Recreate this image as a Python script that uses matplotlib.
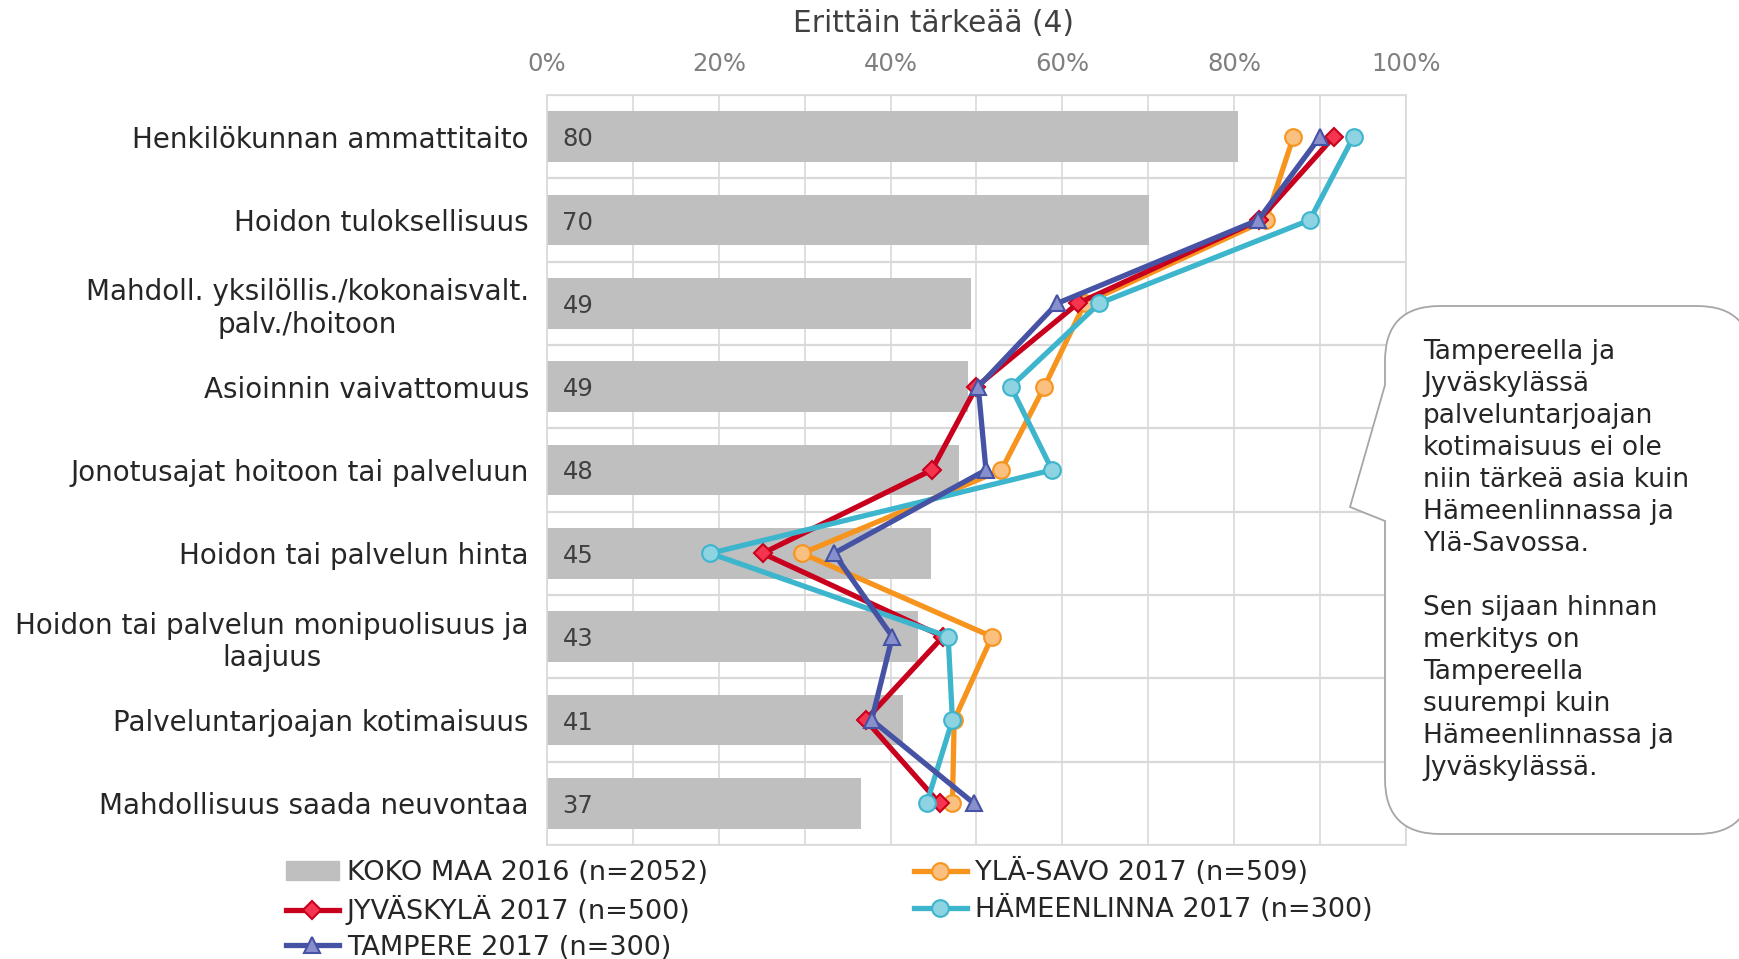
import numpy as np
import matplotlib
matplotlib.use('Agg')
import matplotlib.pyplot as plt
from matplotlib.path import Path
from matplotlib.patches import PathPatch, Patch
from matplotlib.lines import Line2D

categories = ['Henkilökunnan ammattitaito', 'Hoidon tuloksellisuus',
              'Mahdoll. yksilöllis./kokonaisvalt.\npalv./hoitoon', 'Asioinnin vaivattomuus',
              'Jonotusajat hoitoon tai palveluun', 'Hoidon tai palvelun hinta',
              'Hoidon tai palvelun monipuolisuus ja\nlaajuus', 'Palveluntarjoajan kotimaisuus',
              'Mahdollisuus saada neuvontaa']

koko_maa = [80.4, 70.1, 49.4, 49.0, 48.0, 44.7, 43.2, 41.4, 36.6]
yla_savo = [86.9, 83.7, 62.6, 57.9, 52.9, 29.7, 51.8, 47.4, 47.2]
jyvaskyla = [91.6, 82.9, 61.8, 50.0, 44.8, 25.1, 46.1, 37.1, 45.7]
hameenlinna = [93.9, 88.8, 64.3, 54.0, 58.8, 19.0, 46.7, 47.2, 44.2]
tampere = [90.0, 82.8, 59.4, 50.2, 51.1, 33.4, 40.2, 37.8, 49.7]

series_labels = ['KOKO MAA 2016 (n=2052)', 'YLÄ-SAVO 2017 (n=509)', 'JYVÄSKYLÄ 2017 (n=500)',
                 'HÄMEENLINNA 2017 (n=300)', 'TAMPERE 2017 (n=300)']
ticks = [0, 20, 40, 60, 80, 100]

note = ('Tampereella ja\nJyväskylässä\npalveluntarjoajan\nkotimaisuus ei ole\n'
        'niin tärkeä asia kuin\nHämeenlinnassa ja\nYlä-Savossa.\n\n'
        'Sen sijaan hinnan\nmerkitys on\nTampereella\nsuurempi kuin\n'
        'Hämeenlinnassa ja\nJyväskylässä.')

plt.rcParams['font.family'] = ['DejaVu Sans']

W, H = 1740, 959
fig = plt.figure(figsize=(W / 100, H / 100), dpi=100)
ax = fig.add_axes([547 / W, 1 - 845 / H, (1406 - 547) / W, (845 - 95) / H])

y = np.arange(len(categories))

# grid
ax.set_axisbelow(True)
ax.set_xlim(0, 100)
ax.set_ylim(len(categories) - 0.5, -0.5)
ax.set_xticks(ticks)
ax.set_xticklabels([f'{t}%' for t in ticks])
ax.set_xticks(np.arange(10, 100, 20), minor=True)
ax.set_yticks(y)
ax.set_yticklabels(categories, multialignment='center')
ax.set_yticks(np.arange(-0.5, len(categories), 1), minor=True)
ax.grid(True, which='both', axis='x', color='#D9D9D9', lw=1.2)
ax.grid(True, which='minor', axis='y', color='#D9D9D9', lw=1.6)
for s in ax.spines.values():
    s.set_color('#D9D9D9')
    s.set_linewidth(1.2)
ax.xaxis.tick_top()
ax.tick_params(axis='x', which='both', length=0, pad=14, labelsize=17.5, labelcolor='#7F7F7F')
ax.tick_params(axis='y', which='both', length=0, pad=13, labelsize=20, labelcolor='#262626')

# bars
ax.barh(y, koko_maa, height=0.61, color='#BFBFBF', zorder=2)
for yi, v in zip(y, koko_maa):
    ax.text(1.8, yi + 0.03, f'{v:.0f}', va='center', ha='left', fontsize=17.5, color='#404040',
            zorder=3)

# lines
styles = [
    (yla_savo, '#F7941D', '#FAC080', 'o', 12),
    (jyvaskyla, '#C8001E', '#F5344F', 'D', 9),
    (hameenlinna, '#3DB5CD', '#8DD3E2', 'o', 12),
    (tampere, '#4652A4', '#8790CC', '^', 12),
]
handles = [Patch(color='#BFBFBF')]
for vals, lc, fc, m, ms in styles:
    ax.plot(vals, y, color=lc, lw=3.8, marker=m, ms=ms, mfc=fc, mec=lc, mew=1.5, zorder=4,
            clip_on=False)
    handles.append(Line2D([], [], color=lc, lw=3.8, marker=m, ms=ms, mfc=fc, mec=lc, mew=1.5))

fig.text(934 / W, 1 - 23 / H, 'Erittäin tärkeää (4)', ha='center', va='center',
         fontsize=21.3, color='#404040')

# legend, filled column-wise so order handles accordingly
order = [0, 2, 4, 1, 3]
fig.legend([handles[i] for i in order], [series_labels[i] for i in order], ncol=2,
           loc='upper left', bbox_to_anchor=(286 / W, 1 - 858 / H), frameon=False,
           fontsize=19.5, labelcolor='#262626', borderpad=0, borderaxespad=0,
           handlelength=1.95, handletextpad=0.3, columnspacing=7.6, labelspacing=0.34,
           handleheight=0.7)

# speech bubble
L, R, T, B, r = 1385, 1752, 306, 834, 55
pts = [(L, T + r), (L, T), (L + r, T), (R - r, T), (R, T), (R, T + r), (R, B - r), (R, B),
       (R - r, B), (L + r, B), (L, B), (L, B - r), (L, 521), (1350, 507), (L, 385), (L, T + r)]
codes = [Path.MOVETO, Path.CURVE3, Path.CURVE3, Path.LINETO, Path.CURVE3, Path.CURVE3,
         Path.LINETO, Path.CURVE3, Path.CURVE3, Path.LINETO, Path.CURVE3, Path.CURVE3,
         Path.LINETO, Path.LINETO, Path.LINETO, Path.CLOSEPOLY]
bubble = Path([(px / W, 1 - py / H) for px, py in pts], codes)
fig.patches.append(PathPatch(bubble, transform=fig.transFigure, facecolor='white',
                             edgecolor='#A6A6A6', lw=1.3, zorder=5))
fig.text(1423 / W, 1 - 339 / H, note, ha='left', va='top', fontsize=19, color='#262626',
         linespacing=1.3, zorder=6)

fig.savefig('out.png', dpi=100)
